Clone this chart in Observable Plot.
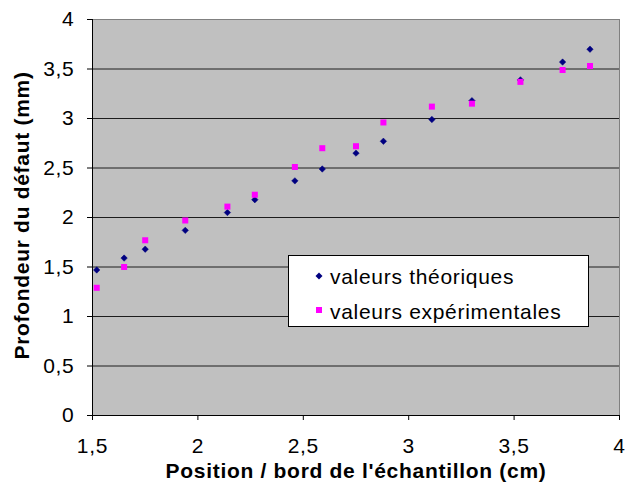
<!DOCTYPE html>
<html>
<head>
<meta charset="utf-8">
<script src="https://cdn.jsdelivr.net/npm/d3@7"></script>
<script src="https://cdn.jsdelivr.net/npm/@observablehq/plot@0.6"></script>
<style>
  html, body { margin: 0; padding: 0; background: #fff; }
  #wrap { position: relative; width: 625px; height: 487px; font-family: 'Liberation Sans', Arial, sans-serif; }
  #legend { position: absolute; left: 288px; top: 255px; width: 299px; height: 70px; background: #fff; border: 1px solid #000; font-size: 21px; color: #000; letter-spacing: 0.7px; }
  .txt { position: absolute; left: 41px; line-height: 1; white-space: nowrap; }
  .mk { position: absolute; }
</style>
</head>
<body>
<div id="wrap">
  <div id="chart"></div>
  <div id="legend"></div>
</div>
<script>
// Data
const positions = [1.52, 1.65, 1.75, 1.94, 2.14, 2.27, 2.46, 2.59, 2.75, 2.88, 3.11, 3.30, 3.53, 3.73, 3.86];
const theoriques = [1.47, 1.59, 1.68, 1.87, 2.05, 2.18, 2.37, 2.49, 2.65, 2.77, 2.99, 3.18, 3.39, 3.57, 3.70];
const experimentales = [1.29, 1.50, 1.77, 1.97, 2.11, 2.23, 2.51, 2.70, 2.72, 2.96, 3.12, 3.15, 3.37, 3.49, 3.53];
const xTicks = [1.5, 2, 2.5, 3, 3.5, 4];
const yTicks = [0, 0.5, 1, 1.5, 2, 2.5, 3, 3.5, 4];
const seriesNames = ["valeurs théoriques", "valeurs expérimentales"];
const xTitle = "Position / bord de l'échantillon (cm)";
const yTitle = "Profondeur du défaut (mm)";

const fmt = d => String(d).replace(".", ",");
const theo = positions.map((x, i) => ({x, y: theoriques[i]}));
const expe = positions.map((x, i) => ({x, y: experimentales[i]}));

const chart = Plot.plot({
  width: 625,
  height: 487,
  marginLeft: 92,
  marginRight: 6,
  marginTop: 19,
  marginBottom: 72,
  style: {fontFamily: "'Liberation Sans', Arial, sans-serif", fontSize: "21px", color: "#000", background: "#fff", letterSpacing: "0.7px"},
  x: {domain: [1.5, 4]},
  y: {domain: [0, 4]},
  marks: [
    Plot.frame({fill: "#c0c0c0", stroke: "#808080"}),
    Plot.ruleY(yTicks.filter(d => d > 0 && d < 4), {stroke: "#000", strokeOpacity: 0.85}),
    Plot.ruleX([1.5], {stroke: "#000"}),
    Plot.ruleY([0], {stroke: "#000"}),
    Plot.axisX({ticks: xTicks, tickFormat: fmt, tickSize: 5, tickPadding: 18, fontSize: 21, label: null, stroke: "#000"}),
    Plot.axisY({ticks: yTicks, tickFormat: fmt, tickSize: 5, tickPadding: 13, fontSize: 21, label: null, stroke: "#000"}),
    Plot.dot(theo, {x: "x", y: "y", symbol: "diamond2", r: 2.9, fill: "#000080", stroke: "#000080", strokeWidth: 0.5}),
    Plot.dot(expe, {x: "x", y: "y", symbol: "square", r: 3.4, fill: "#ff00ff"}),
    Plot.text([xTitle], {text: d => d, frameAnchor: "bottom", lineAnchor: "middle", textAnchor: "middle", dy: 56, fontWeight: "bold", fontSize: 21, fill: "#000"}),
    Plot.text([yTitle], {text: d => d, frameAnchor: "left", lineAnchor: "middle", textAnchor: "middle", dx: -70, dy: -2, rotate: -90, fontWeight: "bold", fontSize: 21, fill: "#000"})
  ]
});
document.getElementById("chart").appendChild(chart);

// Legend
const legend = document.getElementById("legend");
const markers = [
  '<svg class="mk" style="left:25px;top:15px" width="10" height="10"><path d="M5,1.5L8.5,5L5,8.5L1.5,5Z" fill="#000080"/></svg>',
  '<svg class="mk" style="left:26px;top:50px" width="8" height="8"><rect x="1" y="1" width="6" height="6" fill="#ff00ff"/></svg>'
];
seriesNames.forEach((name, i) => {
  legend.insertAdjacentHTML("beforeend", markers[i]);
  const t = document.createElement("div");
  t.className = "txt";
  t.style.top = (i === 0 ? 10 : 45) + "px";
  t.textContent = name;
  legend.appendChild(t);
});
</script>
</body>
</html>
